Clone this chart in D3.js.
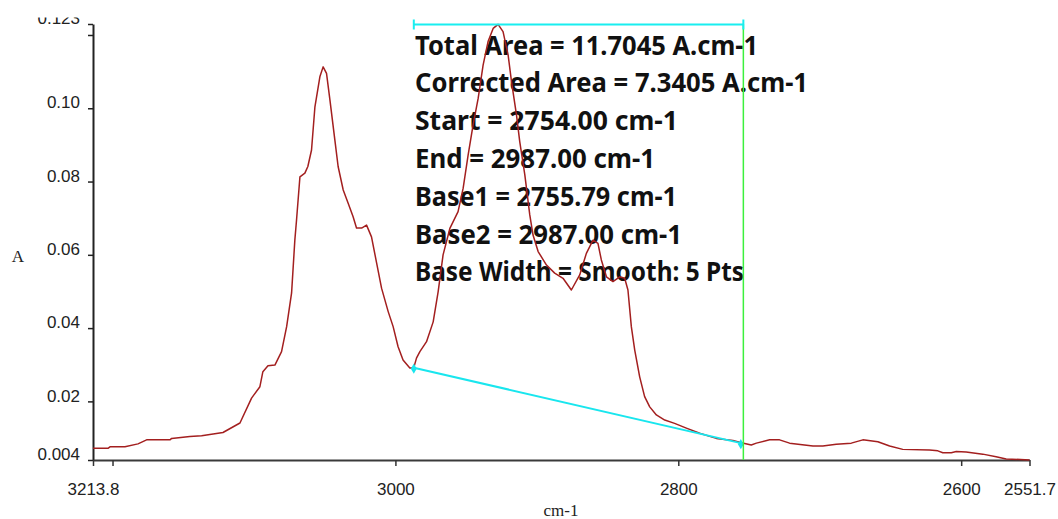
<!DOCTYPE html>
<html>
<head>
<meta charset="utf-8">
<script src="https://cdn.jsdelivr.net/npm/d3@7"></script>
<style>
  html, body { margin: 0; padding: 0; background: #ffffff; }
  svg { display: block; }
</style>
</head>
<body>
<svg id="chart" width="1058" height="519"></svg>
<script>
// ---------------- DATA ----------------
const wavenumbers = [
  3213.8, 3203.2, 3201.8, 3191.2, 3182.0, 3175.9, 3159.4, 3158.2, 3145.3, 3137.0,
  3121.9, 3109.9, 3101.7, 3095.8, 3093.7, 3090.1, 3085.2, 3080.5, 3076.9, 3073.4,
  3071.1, 3069.9, 3067.5, 3064.0, 3061.9, 3059.3, 3056.9, 3053.4, 3051.1, 3048.7,
  3046.3, 3042.8, 3040.5, 3036.9, 3033.4, 3029.9, 3027.5, 3023.9, 3020.4, 3016.9,
  3013.3, 3009.8, 3005.1, 3001.6, 2998.1, 2994.6, 2989.8, 2987.0, 2985.1, 2982.7,
  2978.0, 2973.3, 2969.8, 2966.3, 2961.5, 2955.7, 2952.1, 2948.6, 2945.1, 2941.5,
  2938.0, 2934.5, 2930.9, 2927.4, 2923.9, 2920.3, 2917.9, 2914.4, 2912.1, 2908.5,
  2905.0, 2902.7, 2899.1, 2893.2, 2887.4, 2881.5, 2875.6, 2869.7, 2865.0, 2860.3,
  2856.8, 2854.4, 2850.8, 2846.2, 2841.4, 2837.9, 2835.6, 2833.2, 2830.8, 2827.3,
  2823.8, 2820.2, 2815.5, 2809.6, 2802.6, 2794.3, 2784.9, 2773.1, 2761.4, 2755.4,
  2748.4, 2744.8, 2735.4, 2728.4, 2721.3, 2704.8, 2697.8, 2688.3, 2677.7, 2669.5,
  2658.9, 2650.6, 2641.3, 2622.4, 2616.5, 2613.0, 2607.0, 2603.5, 2596.5, 2584.7,
  2575.3, 2568.2, 2551.7
];
const absorbance = [
  0.0072, 0.0072, 0.0076, 0.0076, 0.0084, 0.0095, 0.0095, 0.0099, 0.0104, 0.0106,
  0.0115, 0.0141, 0.0209, 0.0240, 0.0281, 0.0297, 0.0299, 0.0336, 0.0404, 0.0496,
  0.0640, 0.0695, 0.0813, 0.0823, 0.0841, 0.0886, 0.1004, 0.1086, 0.1113, 0.1095,
  0.1023, 0.0913, 0.0841, 0.0777, 0.0741, 0.0704, 0.0673, 0.0673, 0.0681, 0.0649,
  0.0578, 0.0509, 0.0445, 0.0404, 0.0349, 0.0313, 0.0291, 0.0292, 0.0318, 0.0336,
  0.0363, 0.0417, 0.0499, 0.0600, 0.0672, 0.0718, 0.0782, 0.0872, 0.0954, 0.1027,
  0.1118, 0.1182, 0.1218, 0.1229, 0.1209, 0.1145, 0.1072, 0.0982, 0.0909, 0.0818,
  0.0709, 0.0654, 0.0609, 0.0572, 0.0550, 0.0536, 0.0504, 0.0545, 0.0604, 0.0640,
  0.0631, 0.0586, 0.0540, 0.0527, 0.0540, 0.0536, 0.0504, 0.0404, 0.0340, 0.0267,
  0.0213, 0.0185, 0.0163, 0.0149, 0.0140, 0.0127, 0.0113, 0.0099, 0.0093, 0.0087,
  0.0081, 0.0086, 0.0095, 0.0095, 0.0086, 0.0078, 0.0078, 0.0083, 0.0086, 0.0095,
  0.0090, 0.0078, 0.0069, 0.0067, 0.0065, 0.0060, 0.0060, 0.0063, 0.0062, 0.0056,
  0.0049, 0.0043, 0.0040
];

const xDomain = [3213.8, 2551.7];
const yDomain = [0.004, 0.123];
const xTickValues = [3213.8, 3200, 3000, 2800, 2600, 2551.7];
const xTickLabels = ["3213.8", "", "3000", "2800", "2600", "2551.7"];
const yTickValues = [0.004, 0.02, 0.04, 0.06, 0.08, 0.10, 0.12, 0.123];
const yTickLabels = ["0.004", "0.02", "0.04", "0.06", "0.08", "0.10", "", "0.123"];

const regionStart = 2987.00;   // End
const regionEnd = 2754.00;     // Start
const baseWn = [2987.00, 2755.79];
const baseA = [0.0292, 0.0086];

const xAxisTitle = "cm-1";
const yAxisTitle = "A";
const annotationLines = [
  "Total Area = 11.7045 A.cm-1",
  "Corrected Area = 7.3405 A.cm-1",
  "Start = 2754.00 cm-1",
  "End = 2987.00 cm-1",
  "Base1 = 2755.79 cm-1",
  "Base2 = 2987.00 cm-1",
  "Base Width = Smooth: 5 Pts"
];

// ---------------- LAYOUT ----------------
const svg = d3.select("#chart");
const mLeft = 93, mRight = 1029.5, mTop = 24, mBottom = 460;

const x = d3.scaleLinear().domain(xDomain).range([mLeft, mRight]);
const y = d3.scaleLinear().domain(yDomain).range([mBottom, mTop]);

const tickFont = "'Liberation Sans', Arial, sans-serif";
const serifFont = "'Liberation Serif', 'Times New Roman', serif";

const defs = svg.append("defs");

// annotation text (drawn below the curve)
const annWidths = [343, 393, 263, 240, 262, 267, 329];
const annBase = 54.5, annStep = 37.8;
svg.append("g").selectAll("text").data(annotationLines).join("text")
  .attr("x", 415)
  .attr("y", (d, i) => annBase + i * annStep)
  .attr("textLength", (d, i) => annWidths[i])
  .attr("lengthAdjust", "spacingAndGlyphs")
  .style("font-family", "'Comic Sans MS', 'Noto Sans', sans-serif")
  .style("font-weight", "700")
  .style("font-size", "26px")
  .style("fill", "#111")
  .text(d => d);

// Y axis
const yAxis = d3.axisLeft(y).tickValues(yTickValues)
  .tickFormat((d, i) => yTickLabels[i]).tickSize(5).tickSizeOuter(0).tickPadding(8);
const gy = svg.append("g").attr("transform", `translate(${mLeft},0)`).call(yAxis);
gy.select(".domain").attr("stroke", "#222").attr("stroke-width", 2);
gy.selectAll(".tick line").attr("stroke", "#222").attr("stroke-width", 1.5);
gy.selectAll(".tick text")
  .attr("dy", "-0.02em")
  .style("font-family", tickFont).style("font-size", "17px").style("fill", "#222");
// the top label is partially cut off in the original
defs.append("clipPath").attr("id", "yTopClip")
  .append("rect").attr("x", -100).attr("y", 17 - y(0.123)).attr("width", 200).attr("height", 100);
gy.selectAll(".tick text").filter((d, i) => i === yTickValues.length - 1)
  .attr("clip-path", "url(#yTopClip)");

// X axis
const xAxis = d3.axisBottom(x).tickValues(xTickValues)
  .tickFormat((d, i) => xTickLabels[i]).tickSize(6).tickSizeOuter(0);
const gx = svg.append("g").attr("transform", `translate(0,${mBottom})`).call(xAxis);
gx.select(".domain").attr("stroke", "#3a3a3a").attr("stroke-width", 2);
gx.selectAll(".tick line").attr("stroke", "#333").attr("stroke-width", 1.5);
gx.selectAll(".tick text").attr("y", 35).attr("dy", 0)
  .style("font-family", tickFont).style("font-size", "17px").style("fill", "#222");

// axis titles
svg.append("text").attr("x", 18).attr("y", 262).attr("text-anchor", "middle")
  .style("font-family", serifFont).style("font-size", "17px").style("fill", "#222")
  .text(yAxisTitle);
svg.append("text").attr("x", 561).attr("y", 516).attr("text-anchor", "middle")
  .style("font-family", serifFont).style("font-size", "17px").style("fill", "#222")
  .text(xAxisTitle);

// spectrum
const pts = wavenumbers.map((w, i) => [w, absorbance[i]]);
svg.append("path").datum(pts)
  .attr("fill", "none").attr("stroke", "#a31f1f").attr("stroke-width", 1.5)
  .attr("stroke-linejoin", "round")
  .attr("d", d3.line().x(d => x(d[0])).y(d => y(d[1])));

// baseline (cyan)
const basePts = baseWn.map((w, i) => [w, baseA[i]]);
svg.append("path").datum(basePts)
  .attr("fill", "none").attr("stroke", "#19e6ee").attr("stroke-width", 2)
  .attr("d", d3.line().x(d => x(d[0])).y(d => y(d[1])));
svg.append("g").selectAll("path").data(basePts).join("path")
  .attr("transform", d => `translate(${x(d[0])},${y(d[1]) + 1})`)
  .attr("d", d3.symbol().type(d3.symbolDiamond).size(30))
  .attr("fill", "#19e6ee");

// region end marker (green vertical)
svg.append("line")
  .attr("x1", x(regionEnd)).attr("x2", x(regionEnd))
  .attr("y1", y(yDomain[1])).attr("y2", mBottom)
  .attr("stroke", "#3cf03c").attr("stroke-width", 1.5);

// region range bar (cyan, top)
const barY = y(yDomain[1]) + 0.5;
const gb = svg.append("g").attr("stroke", "#19eef0").attr("stroke-width", 2);
gb.append("line").attr("x1", x(regionStart)).attr("x2", x(regionEnd)).attr("y1", barY).attr("y2", barY);
gb.append("line").attr("x1", x(regionStart)).attr("x2", x(regionStart)).attr("y1", barY - 5).attr("y2", barY + 5);
gb.append("line").attr("x1", x(regionEnd)).attr("x2", x(regionEnd)).attr("y1", barY - 5).attr("y2", barY + 5);
</script>
</body>
</html>
